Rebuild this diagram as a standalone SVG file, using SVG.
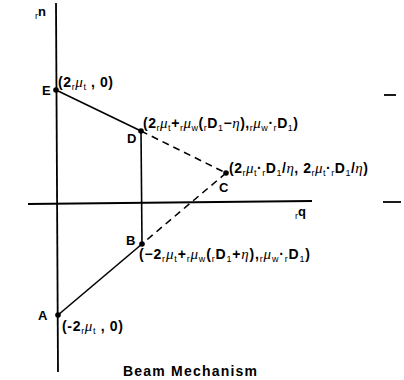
<svg xmlns="http://www.w3.org/2000/svg" width="404" height="380" viewBox="0 0 404 380">
<style>
.t{font-family:"Liberation Sans",Arial,sans-serif;font-size:14px;font-weight:bold;fill:#000}
.l{font-family:"Liberation Sans",Arial,sans-serif;font-size:13px;font-weight:bold;fill:#000}
.g{font-family:"Liberation Serif",serif;font-style:italic;font-weight:normal;font-size:15px}
.s{font-size:9px;font-weight:normal}
.ax{stroke:#000;stroke-width:1.8;fill:none}
.sol{stroke:#000;stroke-width:1.6;fill:none}
.dash{stroke:#000;stroke-width:1.6;fill:none;stroke-dasharray:7 5}
.dot{fill:#000}
</style>
<rect width="404" height="380" fill="#fff"/>
<g id="axes">
<line class="ax" x1="56" y1="3" x2="58" y2="372"/>
<line class="ax" x1="28" y1="204" x2="312" y2="201"/>
<line class="ax" x1="384" y1="95" x2="396" y2="95"/>
<line class="ax" x1="383" y1="202" x2="401" y2="202"/>
<text class="l" x="35" y="16"><tspan class="s" dy="3">r</tspan><tspan dy="-3">n</tspan></text>
<text class="l" x="295" y="216"><tspan class="s" dy="3">r</tspan><tspan dy="-3">q</tspan></text>
</g>
<g id="connectors">
<line class="sol" x1="56" y1="90" x2="141" y2="131"/>
<line class="dash" x1="141" y1="131" x2="226" y2="173"/>
<line class="dash" x1="226" y1="173" x2="142" y2="244"/>
<line class="sol" x1="142" y1="244" x2="58" y2="315"/>
<line class="sol" x1="141" y1="131" x2="142" y2="244"/>
</g>
<g id="E">
<circle class="dot" cx="56" cy="90" r="2.8"/>
<text class="l" x="42" y="95">E</text>
<text class="t" x="58" y="87" textLength="55" lengthAdjust="spacing">(2<tspan class="s" dy="3">r</tspan><tspan class="g" dy="-3">μ</tspan><tspan class="s" dy="3">t</tspan><tspan dy="-3"> , 0)</tspan></text>
</g>
<g id="D">
<circle class="dot" cx="141" cy="131" r="2.8"/>
<text class="l" x="127" y="143">D</text>
<text class="t" x="143" y="128" textLength="155" lengthAdjust="spacing">(2<tspan class="s" dy="3">r</tspan><tspan class="g" dy="-3">μ</tspan><tspan class="s" dy="3">t</tspan><tspan dy="-3">+</tspan><tspan class="s" dy="3">r</tspan><tspan class="g" dy="-3">μ</tspan><tspan class="s" dy="3">w</tspan><tspan dy="-3">(</tspan><tspan class="s" dy="3">r</tspan><tspan dy="-3">D</tspan><tspan class="s" dy="3">1</tspan><tspan dy="-3">−</tspan><tspan class="g">η</tspan><tspan>),</tspan><tspan class="s" dy="3">r</tspan><tspan class="g" dy="-3">μ</tspan><tspan class="s" dy="3">w</tspan><tspan dy="-3">·</tspan><tspan class="s" dy="3">r</tspan><tspan dy="-3">D</tspan><tspan class="s" dy="3">1</tspan><tspan dy="-3">)</tspan></text>
</g>
<g id="C">
<circle class="dot" cx="226" cy="173" r="2.8"/>
<text class="l" x="219" y="192">C</text>
<text class="t" x="229" y="173" textLength="139" lengthAdjust="spacing">(2<tspan class="s" dy="3">r</tspan><tspan class="g" dy="-3">μ</tspan><tspan class="s" dy="3">t</tspan><tspan dy="-3">·</tspan><tspan class="s" dy="3">r</tspan><tspan dy="-3">D</tspan><tspan class="s" dy="3">1</tspan><tspan dy="-3">/</tspan><tspan class="g">η</tspan><tspan>, 2</tspan><tspan class="s" dy="3">r</tspan><tspan class="g" dy="-3">μ</tspan><tspan class="s" dy="3">t</tspan><tspan dy="-3">·</tspan><tspan class="s" dy="3">r</tspan><tspan dy="-3">D</tspan><tspan class="s" dy="3">1</tspan><tspan dy="-3">/</tspan><tspan class="g">η</tspan><tspan>)</tspan></text>
</g>
<g id="B">
<circle class="dot" cx="142" cy="244" r="2.8"/>
<text class="l" x="126" y="245">B</text>
<text class="t" x="139" y="259" textLength="171" lengthAdjust="spacing">(−2<tspan class="s" dy="3">r</tspan><tspan class="g" dy="-3">μ</tspan><tspan class="s" dy="3">t</tspan><tspan dy="-3">+</tspan><tspan class="s" dy="3">r</tspan><tspan class="g" dy="-3">μ</tspan><tspan class="s" dy="3">w</tspan><tspan dy="-3">(</tspan><tspan class="s" dy="3">r</tspan><tspan dy="-3">D</tspan><tspan class="s" dy="3">1</tspan><tspan dy="-3">+</tspan><tspan class="g">η</tspan><tspan>),</tspan><tspan class="s" dy="3">r</tspan><tspan class="g" dy="-3">μ</tspan><tspan class="s" dy="3">w</tspan><tspan dy="-3">·</tspan><tspan class="s" dy="3">r</tspan><tspan dy="-3">D</tspan><tspan class="s" dy="3">1</tspan><tspan dy="-3">)</tspan></text>
</g>
<g id="A">
<circle class="dot" cx="58" cy="315" r="2.8"/>
<text class="l" x="38" y="320">A</text>
<text class="t" x="62" y="331" textLength="61" lengthAdjust="spacing">(-2<tspan class="s" dy="3">r</tspan><tspan class="g" dy="-3">μ</tspan><tspan class="s" dy="3">t</tspan><tspan dy="-3"> , 0)</tspan></text>
</g>
<text class="t" x="123" y="376" font-size="14.5" textLength="134" lengthAdjust="spacing">Beam Mechanism</text>
</svg>
